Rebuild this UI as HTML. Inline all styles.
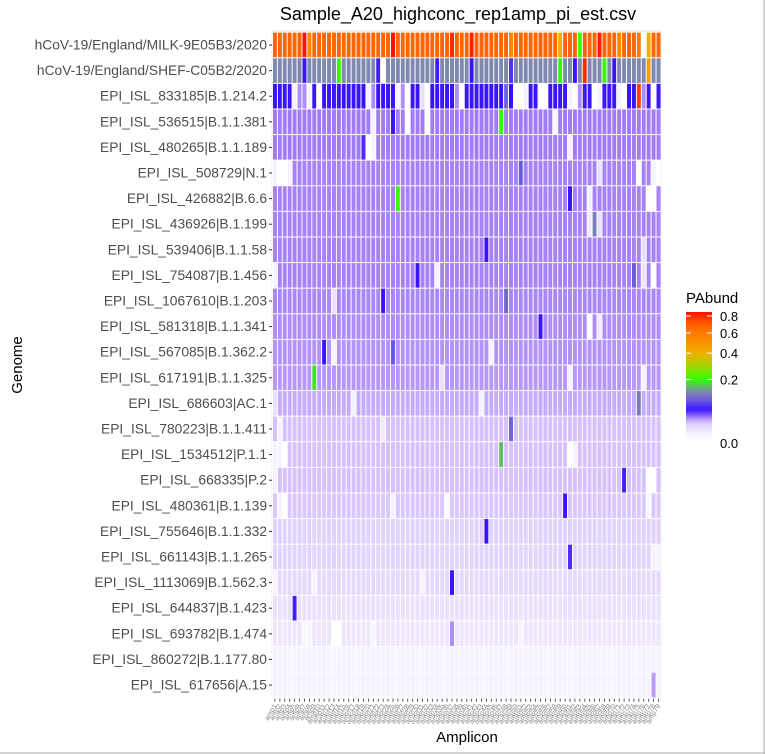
<!DOCTYPE html>
<html><head><meta charset="utf-8"><style>
html,body{margin:0;padding:0;background:#fff;}
svg{display:block;font-family:"Liberation Sans",sans-serif;}
</style></head><body>
<svg id="chart" width="765" height="754">
</svg>
<script>
const genomes=["hCoV-19/England/MILK-9E05B3/2020","hCoV-19/England/SHEF-C05B2/2020","EPI_ISL_833185|B.1.214.2","EPI_ISL_536515|B.1.1.381","EPI_ISL_480265|B.1.1.189","EPI_ISL_508729|N.1","EPI_ISL_426882|B.6.6","EPI_ISL_436926|B.1.199","EPI_ISL_539406|B.1.1.58","EPI_ISL_754087|B.1.456","EPI_ISL_1067610|B.1.203","EPI_ISL_581318|B.1.1.341","EPI_ISL_567085|B.1.362.2","EPI_ISL_617191|B.1.1.325","EPI_ISL_686603|AC.1","EPI_ISL_780223|B.1.1.411","EPI_ISL_1534512|P.1.1","EPI_ISL_668335|P.2","EPI_ISL_480361|B.1.139","EPI_ISL_755646|B.1.1.332","EPI_ISL_661143|B.1.1.265","EPI_ISL_1113069|B.1.562.3","EPI_ISL_644837|B.1.423","EPI_ISL_693782|B.1.474","EPI_ISL_860272|B.1.177.80","EPI_ISL_617656|A.15"];
const nAmplicons=79;
const rowBase=[0.68,0.13,0.055,0.033,0.033,0.032,0.032,0.032,0.032,0.032,0.031,0.03,0.029,0.028,0.025,0.021,0.021,0.021,0.019,0.016,0.015,0.013,0.01,0.008,0.004,0.004];
// [row, amplicon, value]
const exceptions=[
[0,6,0.85],[0,7,0.55],[0,24,0.85],[0,36,0.8],[0,40,0.82],[0,48,0.55],[0,58,0.4],[0,62,0.2],[0,63,0.7],[0,66,0.82],[0,70,0.55],[0,75,0],[0,76,0.4],[0,74,0.6],
[1,6,0.055],[1,13,0.2],[1,22,0],[1,21,0.06],[1,33,0.06],[1,40,0.055],[1,48,0.07],[1,58,0.2],[1,61,0.055],[1,63,0.8],[1,67,0.2],[1,76,0.45],[1,69,0.055],
[2,4,0.004],[2,5,0.03],[2,6,0.03],[2,7,0.004],[2,9,0],[2,19,0.004],[2,20,0.03],[2,25,0.004],[2,26,0.03],[2,27,0],[2,30,0.01],[2,31,0],[2,37,0.03],[2,38,0],[2,47,0.1],[2,49,0],[2,50,0],[2,51,0.004],[2,54,0],[2,55,0],[2,60,0.004],[2,61,0],[2,62,0.03],[2,65,0],[2,66,0.004],[2,70,0.004],[2,71,0],[2,74,0.75],[2,75,0.03],[2,77,0],
[3,27,0],[3,31,0],[3,46,0.2],[3,24,0.055],[3,57,0.002],[3,20,0.004],
[4,18,0.05],[4,19,0],[4,20,0.003],[4,60,0.004],
[5,0,0.004],[5,1,0],[5,2,0],[5,3,0.004],[5,50,0.09],[5,74,0],[5,77,0.004],[5,78,0],[5,66,0.01],
[6,25,0.2],[6,60,0.055],[6,64,0.004],[6,76,0],[6,77,0],
[7,64,0.006],[7,65,0.12],[7,66,0.01],
[8,43,0.055],[8,75,0.01],
[9,0,0.004],[9,29,0.055],[9,33,0.004],[9,73,0.09],[9,77,0],[9,75,0.008],
[10,22,0.055],[10,47,0.1],[10,12,0.01],
[11,54,0.055],[11,64,0],[11,66,0.006],
[12,10,0.055],[12,12,0.004],[12,24,0.09],[12,44,0.004],
[13,8,0.18],[13,34,0.01],[13,60,0.004],[13,75,0.004],
[14,74,0.12],[14,16,0.004],[14,42,0.004],[14,0,0.01],
[15,48,0.1],[15,1,0.004],[15,22,0.006],
[16,46,0.16],[16,0,0.004],[16,1,0.004],[16,2,0],[16,60,0],[16,61,0.004],
[17,71,0.06],[17,0,0.004],[17,76,0],[17,77,0],
[18,59,0.055],[18,1,0.004],[18,2,0],[18,24,0.004],[18,35,0],[18,76,0.002],
[19,43,0.055],
[20,60,0.05],[20,77,0.004],[20,78,0.004],
[21,36,0.055],[21,0,0.004],[21,8,0.004],[21,30,0.004],
[22,4,0.06],
[23,36,0.03],[23,6,0.002],[23,7,0.002],[23,12,0],[23,13,0],[23,20,0.002],[23,50,0.003],
[25,77,0.028]
];
const legendTicks=[0.0,0.2,0.4,0.6,0.8];

const svg=document.getElementById('chart');
const NS='http://www.w3.org/2000/svg';
function mk(tag,attrs,parent){const e=document.createElementNS(NS,tag);for(const k in attrs)e.setAttribute(k,attrs[k]);(parent||svg).appendChild(e);return e;}

const px0=272.5,px1=661,py0=32.2,rowH=25.6;
const cw=(px1-px0)/nAmplicons;
function xScale(i){return px0+i*cw;}
function yScale(r){return py0+r*rowH;}
const stops=[[0,[255,255,255]],[0.004,[246,242,255]],[0.008,[238,230,254]],[0.014,[228,216,253]],[0.022,[212,190,253]],[0.033,[162,124,248]],[0.055,[58,20,255]],[0.09,[106,90,224]],[0.13,[127,136,176]],[0.2,[51,255,0]],[0.3,[170,210,0]],[0.4,[240,176,0]],[0.6,[255,122,0]],[0.7,[255,96,0]],[0.85,[255,16,0]]];
function color(v){
  if(v<=0)return 'rgb(255,255,255)';
  for(let i=1;i<stops.length;i++){
    if(v<=stops[i][0]){const a=stops[i-1],b=stops[i];const t=(Math.sqrt(v)-Math.sqrt(a[0]))/(Math.sqrt(b[0])-Math.sqrt(a[0]));
      return 'rgb('+a[1].map((c,k)=>Math.round(c+(b[1][k]-c)*t)).join(',')+')';}
  }
  return 'rgb(255,16,0)';
}
const grid=rowBase.map(b=>Array(nAmplicons).fill(b));
exceptions.forEach(e=>{grid[e[0]][e[1]]=e[2];});

const title=mk('text',{x:458,y:20,'font-size':18,'text-anchor':'middle',fill:'#000'});
title.textContent='Sample_A20_highconc_rep1amp_pi_est.csv';



const panel=mk('rect',{x:px0-1,y:py0-2,width:px1-px0+2,height:rowH*26+3,fill:'#ebebeb'});



const cells=mk('g',{});


for(let r=0;r<genomes.length;r++){
  for(let c=0;c<nAmplicons;c++){
    const rc=mk('rect',{x:xScale(c),y:yScale(r),width:cw,height:rowH,fill:color(grid[r][c]),stroke:'#fff','stroke-width':0.9},cells);
    
    
  }
  const cy=yScale(r)+rowH/2;
  const lab=mk('text',{x:267,y:cy+4.5,'font-size':13.8,'text-anchor':'end',fill:'#4d4d4d'});
  lab.textContent=genomes[r];
  
  
  mk('line',{x1:269,x2:272,y1:cy,y2:cy,stroke:'#333','stroke-width':1});
}
const ybot=yScale(26);
for(let c=0;c<nAmplicons;c++){
  const cx=xScale(c)+cw/2;
  mk('line',{x1:cx,x2:cx,y1:ybot+1,y2:ybot+4,stroke:'#333','stroke-width':0.8});
  const t=mk('text',{x:cx+2,y:ybot+8,'font-size':7,'text-anchor':'end',fill:'#888',transform:'rotate(-60 '+(cx+2)+' '+(ybot+8)+')'});
  t.textContent='amp'+(c+1);
  
  
}
const xt=mk('text',{x:467,y:742,'font-size':15,'text-anchor':'middle',fill:'#000'});
xt.textContent='Amplicon';


const yt=mk('text',{x:22,y:365,'font-size':15,'text-anchor':'middle',fill:'#000',transform:'rotate(-90 22 365)'});
yt.textContent='Genome';



const lg=mk('g',{});


const lt=mk('text',{x:686,y:303,'font-size':15,fill:'#000'},lg);
lt.textContent='PAbund';
const defs=mk('defs',{});
const grad=mk('linearGradient',{id:'lgrad',x1:0,y1:1,x2:0,y2:0},defs);
const lb0=443,lbTop=312,vmax=0.85;
function lyScale(v){return lb0-(lb0-lbTop)*Math.sqrt(v/vmax);}
for(let i=0;i<=40;i++){const s=Math.sqrt(vmax)*i/40;const v=s*s;mk('stop',{offset:i/40,'stop-color':color(v)},grad);}
const bar=mk('rect',{x:686,y:lbTop,width:26,height:lb0-lbTop,fill:'url(#lgrad)'},lg);


legendTicks.forEach(v=>{
  const y=lyScale(v);
  if(v>0){mk('line',{x1:686,x2:691,y1:y,y2:y,stroke:'#fff','stroke-width':1},lg);mk('line',{x1:707,x2:712,y1:y,y2:y,stroke:'#fff','stroke-width':1},lg);}
  const tt=mk('text',{x:720,y:y+5,'font-size':13,fill:'#000'},lg);
  tt.textContent=v.toFixed(1);
  
  
});
mk('line',{x1:0,x2:765,y1:753,y2:753,stroke:'#aaa','stroke-width':1});
mk('line',{x1:764,x2:764,y1:0,y2:754,stroke:'#aaa','stroke-width':1});
</script>
</body></html>
